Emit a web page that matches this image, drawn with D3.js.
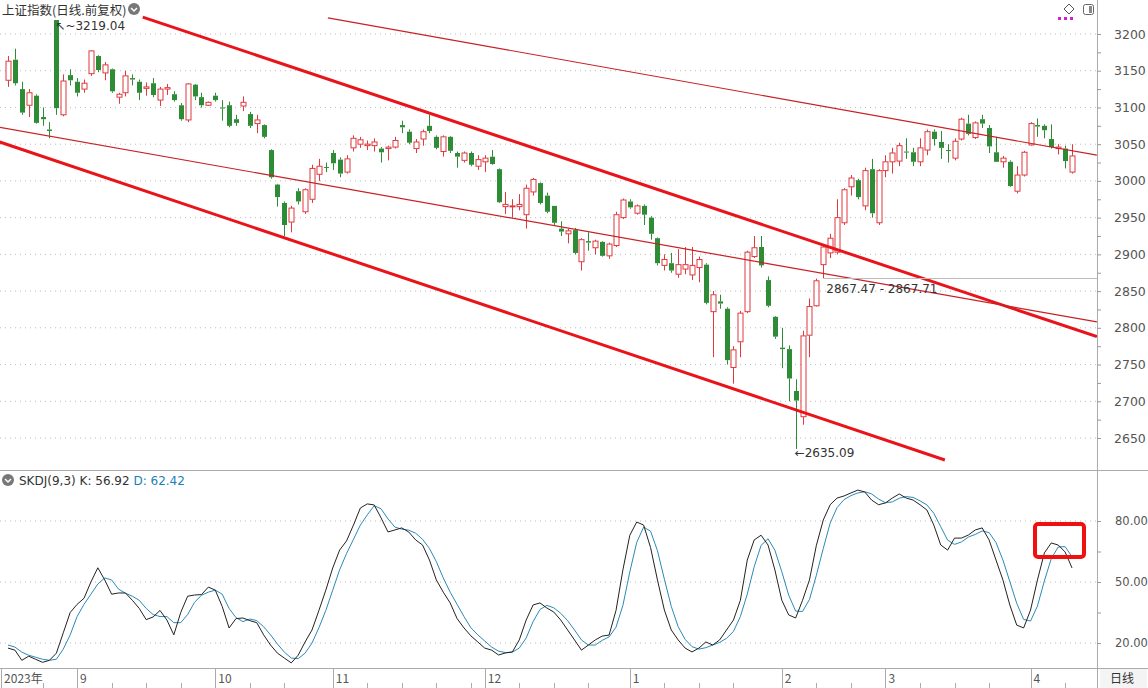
<!DOCTYPE html>
<html>
<head>
<meta charset="utf-8">
<script src="https://cdn.jsdelivr.net/npm/d3@7"></script>
<style>
  body { margin: 0; background: #fff; }
  svg text { font-family: "Noto Sans CJK SC", "DejaVu Sans", sans-serif; }
</style>
</head>
<body>
<svg id="chart" width="1148" height="688"></svg>
<script>
"use strict"

// daily candles, [open, high, low, close]
var candles = [
  [3137,3170,3128,3163],[3165,3180,3130,3133],[3125,3135,3090,3093],[3103,3125,3087,3120],[3116,3118,3078,3079],
  [3087,3100,3075,3084],[3070,3080,3058,3068],[3219,3219.04,3090,3099],[3090,3145,3088,3136],[3144,3152,3130,3137],
  [3135,3140,3115,3120],[3125,3138,3120,3133],[3146,3178,3143,3177],[3170,3171,3148,3151],[3147,3162,3137,3158],
  [3152,3153,3120,3122],[3114,3120,3105,3118],[3120,3150,3115,3143],[3140,3145,3130,3138],[3135,3138,3110,3120],
  [3126,3134,3116,3128],[3133,3140,3114,3117],[3110,3128,3102,3125],[3125,3132,3117,3127],[3118,3122,3108,3110],
  [3103,3106,3082,3084],[3083,3133,3080,3132],[3131,3132,3110,3115],[3114,3120,3100,3103],[3103,3108,3102,3107],
  [3116,3120,3108,3110],[3100,3110,3082,3099],[3103,3108,3073,3075],[3084,3090,3075,3079],[3102,3115,3095,3107],
  [3091,3094,3072,3075],[3078,3090,3065,3083],[3076,3077,3058,3060],[3042,3043,3003,3005],[2995,2996,2965,2978],
  [2970,2972,2925,2940],[2944,2966,2930,2963],[2986,2990,2968,2972],[2958,2990,2955,2988],[2975,3022,2970,3017],
  [3009,3030,3000,3020],[3019,3025,3012,3018],[3038,3042,3015,3024],[3029,3032,3005,3010],[3012,3035,3010,3030],
  [3045,3062,3040,3058],[3050,3060,3045,3056],[3048,3055,3042,3050],[3048,3058,3040,3053],[3044,3046,3025,3039],
  [3044,3048,3028,3046],[3046,3060,3044,3055],[3076,3082,3065,3073],[3067,3070,3050,3052],[3044,3057,3038,3053],
  [3057,3070,3048,3067],[3075,3090,3065,3068],[3060,3062,3043,3045],[3040,3062,3033,3060],[3060,3061,3038,3041],
  [3038,3040,3018,3033],[3028,3040,3025,3038],[3038,3040,3020,3022],[3020,3035,3015,3029],[3026,3035,3012,3031],
  [3033,3042,3022,3023],[3016,3017,2970,2971],[2965,2985,2955,2968],[2965,2975,2950,2966],[2965,2982,2960,2968],
  [2954,2995,2935,2990],[2985,3004,2980,3002],[2997,2998,2968,2970],[2980,2984,2956,2958],[2966,2966,2940,2943],
  [2935,2945,2925,2931],[2928,2935,2915,2932],[2933,2936,2900,2902],[2890,2922,2878,2920],[2918,2930,2905,2916],
  [2909,2920,2900,2918],[2917,2918,2897,2898],[2898,2916,2894,2914],[2912,2958,2910,2954],[2950,2976,2948,2974],
  [2972,2975,2962,2964],[2956,2968,2954,2966],[2966,2968,2940,2954],[2950,2952,2920,2928],[2922,2923,2885,2888],
  [2885,2900,2878,2893],[2888,2902,2875,2878],[2873,2907,2868,2886],[2880,2910,2873,2886],[2872,2910,2865,2885],
  [2882,2897,2862,2893],[2886,2888,2832,2834],[2822,2850,2760,2845],[2836,2845,2826,2833],[2826,2828,2750,2756],
  [2746,2775,2724,2770],[2781,2823,2760,2820],[2822,2905,2820,2903],[2897,2925,2895,2909],[2910,2925,2882,2885],
  [2865,2870,2828,2830],[2815,2816,2785,2788],[2773,2800,2745,2771],[2771,2776,2700,2731],[2714,2730,2635.09,2701],
  [2679,2796,2668,2789],[2790,2840,2760,2829],[2830,2867,2829,2864],[2886,2912,2867.6,2910],[2902,2928,2895,2922],
  [2903,2975,2900,2950],[2943,2990,2940,2988],[2992,3008,2980,3004],[3001,3003,2975,2978],[2966,3018,2960,3014],
  [3016,3030,2950,2956],[2943,3016,2940,3014],[3014,3035,3005,3026],[3026,3045,3010,3038],[3027,3052,3020,3048],
  [3040,3058,3030,3039],[3039,3045,3020,3026],[3026,3058,3020,3045],[3042,3070,3035,3067],[3067,3070,3048,3057],
  [3053,3068,3030,3045],[3042,3050,3025,3041],[3031,3058,3028,3054],[3057,3086,3055,3084],[3078,3090,3062,3064],
  [3059,3081,3057,3079],[3084,3090,3072,3078],[3072,3076,3038,3047],[3039,3060,3026,3026],[3026,3034,3018,3031],
  [3026,3028,2992,2993],[2986,3020,2983,3008],[3008,3041,3006,3039],[3049,3080,3048,3078],[3076,3085,3060,3074],
  [3075,3077,3058,3069],[3057,3077,3044,3046],[3044,3050,3036,3046],[3044,3048,3017,3027],[3012,3050,3010,3034]
];

var kValues = [
  17.5,16.5,11.5,13.5,12,10.5,11.5,15,25,35, 39,42,50,57,51,44,44.6,44.6,41,37,
  31.5,32.8,36,31.3,24,35,43,43.6,43.8,47.5, 46,38,27.4,32,32.3,31,30,24,19,15,
  12.6,10.2,14,20.5,26.4,36,46,56.9,65.7,70.2, 78,86.4,88.4,87.9,81.5,74.6,75.6,76.6,74.6,70.7,
  68.2,60.8,51,45,39.7,32,27.4,23.5,20.5,17.5, 16.5,14.1,15.1,15.6,21.5,31.3,38.7,39.7,37.2,35.2,
  31.3,26.4,21.5,16.5,19,21.5,23.4,23.9,36,56, 73,79.5,78,67,51,36.2,26.4,21.5,17.5,15.6,
  17.5,20.5,19,21.5,26.4,31.3,41,60.8,70.7,73, 68.2,55.9,41,33.8,32.3,41,51,68,80.5,88,
  91.3,92.3,93.8,95.2,94.3,90.3,88,88.9,91.3,93.3, 91.3,90.3,88,85.4,78,68.2,65.7,71.6,71.6,73.1,
  75.6,76.6,70.7,60.8,51,38.7,28.8,27.4,36.2,51, 64.3,69.2,68.2,64.8,56.92
];

var dValues = [
  19,18,15.5,14,13,12,11.5,12,17,24, 33,39,44,49,52,51,46.5,44.5,43,41,
  37,34,33,33,30,30,34,40,43.5,45, 46,44,37,32.5,30.5,31.8,31,28,24,19.5,
  15.5,12.6,12.3,15,20,27.5,36,46,56,64, 71,78,83,87.5,86,81,77,76,75.5,74,
  71,66.5,60,52,45,39,33,27.5,24,21, 18,16,15.3,15.5,17.5,22.5,30.5,36.5,38.5,37.3,
  34.6,31,26.4,21.5,19,19,21.3,23,27.8,38.5, 55,69.5,77,75,65.4,51.4,38,28,21.8,18.2,
  17,17.7,19,20.3,22.3,25.7,33,44,57.5,68, 71.3,65.6,55,43.5,35.7,35.5,41.4,53.3,66.5,79,
  86.6,90.5,92.5,93.8,94.4,93.3,90.8,89,89.4,91.2, 92,91.6,89.9,87.9,83.8,77.2,70.6,68.5,69.7,72.1,
  73.4,75.1,74.3,69.4,60.8,50.2,39.5,31.6,30.8,38.2, 50.5,61.5,67.2,67.4,62.42
];

// month labels on the time axis: [candle index, text]
var monthTicks = [[-1,'2023年'],[10,'9'],[30,'10'],[47,'11'],[69,'12'],[90,'1'],[112,'2'],[127,'3'],[148,'4']];
var weekTicks = [5,15,20,25,35,40,52,57,62,67,74,79,84,95,100,105,117,122,132,137,142,153];
var priceTicks = [2650,2700,2750,2800,2850,2900,2950,3000,3050,3100,3150,3200];
var kdjTicks = [20,50,80];

// drawn trend lines: [[index, price], [index, price], width]
var trendLines = [
  [[19.5,3223],[157.6,2788],3],
  [[-1.2,3053],[135.6,2620],3],
  [[46.3,3222],[157.6,3035],1.2],
  [[-1.2,3073],[157.6,2808],1.2]
];

var RED = '#e0393e', GREEN = '#2e8b36', GRID = '#bbb';
var svg = d3.select('#chart');
var plotR = 1097;

var x = d3.scaleLinear().domain([0, candles.length - 1]).range([8, 1072]);
var y = d3.scaleLinear().domain([2650, 3200]).range([438, 34]);
var yk = d3.scaleLinear().domain([20, 80]).range([643, 521]);

// grid
svg.selectAll('line.pg').data(priceTicks).enter().append('line')
  .attr('x1', 0).attr('x2', plotR).attr('y1', y).attr('y2', y)
  .attr('stroke', GRID).attr('stroke-dasharray', '1,4');
svg.selectAll('line.kg').data(kdjTicks).enter().append('line')
  .attr('x1', 0).attr('x2', plotR).attr('y1', yk).attr('y2', yk)
  .attr('stroke', GRID).attr('stroke-dasharray', '1,4');

// frame lines
svg.append('line').attr('x1', plotR + .5).attr('x2', plotR + .5).attr('y1', 0).attr('y2', 688).attr('stroke', '#aaa');
svg.append('line').attr('x1', 0).attr('x2', 1148).attr('y1', 470.5).attr('y2', 470.5).attr('stroke', '#aaa');
svg.append('line').attr('x1', 0).attr('x2', 1148).attr('y1', 668.5).attr('y2', 668.5).attr('stroke', '#aaa');

// right axes
var ra = svg.append('g').attr('transform', 'translate(' + plotR + ',0)');
ra.call(d3.axisRight(y).tickValues(priceTicks).tickSize(4).tickFormat(d3.format('d')));
ra.append('g').call(d3.axisRight(y).tickValues(d3.range(2675, 3225, 50)).tickSize(4).tickFormat(''));
var rk = svg.append('g').attr('transform', 'translate(' + plotR + ',0)');
rk.call(d3.axisRight(yk).tickValues(kdjTicks).tickSize(4).tickFormat(d3.format('.2f')));
rk.append('g').call(d3.axisRight(yk).tickValues([35, 65]).tickSize(4).tickFormat(''));
svg.selectAll('.domain').remove();
svg.selectAll('.tick line').attr('stroke', '#999');
svg.selectAll('.tick text').attr('x', 17).attr('fill', '#555').style('font-size', '12.5px')
  .style('font-family', '"DejaVu Sans", sans-serif');
rk.selectAll('.tick text').style('font-size', '11.5px').attr('x', 18);

// time axis
var ta = svg.append('g');
ta.selectAll('line.m').data(monthTicks).enter().append('line')
  .attr('x1', function(d) { return Math.round(x(d[0])) + .5; })
  .attr('x2', function(d) { return Math.round(x(d[0])) + .5; })
  .attr('y1', 669).attr('y2', 688).attr('stroke', '#aaa');
ta.selectAll('line.w').data(weekTicks).enter().append('line')
  .attr('x1', function(d) { return Math.round(x(d)) + .5; })
  .attr('x2', function(d) { return Math.round(x(d)) + .5; })
  .attr('y1', 683).attr('y2', 688).attr('stroke', '#aaa');
ta.selectAll('text').data(monthTicks).enter().append('text')
  .attr('x', function(d) { return Math.max(3, x(d[0]) + 3); }).attr('y', 683)
  .attr('fill', '#555').style('font-size', '12px').text(function(d) { return d[1]; });
svg.append('rect').attr('x', 1100).attr('y', 669).attr('width', 47).attr('height', 19).attr('fill', '#f4f4f4');
svg.append('text').attr('x', 1110).attr('y', 683).attr('fill', '#333').style('font-size', '12px').text('日线');

// candles
var g = svg.append('g');
var bw = 5;
candles.forEach(function(c, i) {
  var up = c[3] >= c[0];
  var col = up ? RED : GREEN;
  var cx = Math.round(x(i)) + .5;
  var top = y(Math.max(c[0], c[3])), bot = y(Math.min(c[0], c[3]));
  g.append('line').attr('x1', cx).attr('x2', cx).attr('y1', y(c[1])).attr('y2', top).attr('stroke', col);
  g.append('line').attr('x1', cx).attr('x2', cx).attr('y1', bot).attr('y2', y(c[2])).attr('stroke', col);
  g.append('rect').attr('x', cx - bw / 2).attr('y', top).attr('width', bw).attr('height', Math.max(1, bot - top))
    .attr('fill', up ? '#fff' : GREEN).attr('stroke', col).attr('stroke-width', up ? 1 : 0);
});

// trend lines
svg.append('clipPath').attr('id', 'main').append('rect')
  .attr('x', 0).attr('y', 0).attr('width', plotR).attr('height', 470);
svg.append('g').attr('clip-path', 'url(#main)').selectAll('line').data(trendLines).enter().append('line')
  .attr('x1', function(d) { return x(d[0][0]); }).attr('y1', function(d) { return y(d[0][1]); })
  .attr('x2', function(d) { return x(d[1][0]); }).attr('y2', function(d) { return y(d[1][1]); })
  .attr('stroke', function(d) { return d[2] > 2 ? '#e8141a' : '#c82025'; })
  .attr('stroke-width', function(d) { return d[2]; });

// price markers
svg.append('line').attr('x1', x(118)).attr('x2', plotR).attr('y1', Math.round(y(2867.6)) + .5)
  .attr('y2', Math.round(y(2867.6)) + .5).attr('stroke', '#bbb');
svg.append('text').attr('x', x(118) + 3).attr('y', y(2867.6) + 15).attr('fill', '#333')
  .style('font-size', '12px').style('font-family', '"DejaVu Sans", sans-serif').text('2867.47 - 2867.71');
svg.append('text').attr('x', x(7) - 1).attr('y', y(3219.04) + 10).attr('fill', '#333')
  .style('font-size', '12px').style('font-family', '"DejaVu Sans", sans-serif').text('↖~3219.04');
svg.append('text').attr('x', x(114) - 1).attr('y', y(2635.09) + 8).attr('fill', '#333')
  .style('font-size', '12px').style('font-family', '"DejaVu Sans", sans-serif').text('←2635.09');

// header
svg.append('text').attr('x', 2).attr('y', 15).attr('fill', '#333').style('font-size', '12.5px').text('上证指数(日线.前复权)');
function chevron(cx, cy) {
  svg.append('circle').attr('cx', cx).attr('cy', cy).attr('r', 6).attr('fill', '#777');
  svg.append('path').attr('d', 'M' + (cx - 3) + ',' + (cy - 1) + 'l3,3l3,-3').attr('fill', 'none')
    .attr('stroke', '#fff').attr('stroke-width', 1.5);
}
chevron(134, 9);
chevron(8, 480);
svg.append('path').attr('d', 'M1069,4l5,5l-5,5l-5,-5z').attr('fill', 'none').attr('stroke', '#555');
svg.append('rect').attr('x', 1083.5).attr('y', 4.5).attr('width', 10).attr('height', 10).attr('rx', 2)
  .attr('fill', 'none').attr('stroke', '#666');
svg.append('rect').attr('x', 1089).attr('y', 6).attr('width', 3).attr('height', 7).attr('fill', '#888');
[1058, 1064, 1070].forEach(function(px) {
  svg.append('rect').attr('x', px).attr('y', 17).attr('width', 3).attr('height', 3).attr('fill', '#d020d0');
});

// SKDJ
var kh = svg.append('text').attr('x', 19).attr('y', 485).style('font-size', '12px')
  .style('font-family', '"DejaVu Sans", sans-serif');
kh.append('tspan').attr('fill', '#333').text('SKDJ(9,3) K: ' + kValues[kValues.length - 1].toFixed(2) + ' ');
kh.append('tspan').attr('fill', '#1a7fb5').text('D: ' + dValues[dValues.length - 1].toFixed(2));

var line = d3.line().x(function(d, i) { return x(i); });
svg.append('path').datum(dValues).attr('d', line.y(function(d) { return yk(d); }))
  .attr('fill', 'none').attr('stroke', '#2a8ab8').attr('stroke-width', 1);
svg.append('path').datum(kValues).attr('d', line.y(function(d) { return yk(d); }))
  .attr('fill', 'none').attr('stroke', '#222').attr('stroke-width', 1);

// highlight box
svg.append('rect').attr('x', 1035).attr('y', 524).attr('width', 49).attr('height', 33).attr('rx', 3)
  .attr('fill', 'none').attr('stroke', '#f01010').attr('stroke-width', 4);
</script>
</body>
</html>
